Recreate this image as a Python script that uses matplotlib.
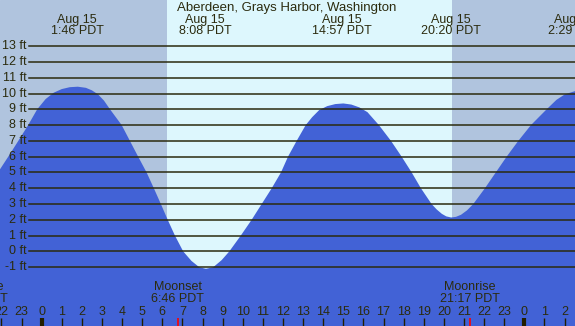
import matplotlib
matplotlib.use("Agg")
import matplotlib.pyplot as plt

# Tide curve (hours from midnight Aug 15, feet)
tide_hours = [-2.07, -1.66, -1.16, -0.67, -0.22, 0.20, 0.60, 1.00, 1.40, 1.80, 2.20,
              2.50, 2.80, 3.10, 3.40, 3.98, 4.39, 4.80, 5.22, 5.58, 5.93, 6.27, 6.63,
              7.04, 7.45, 7.84, 8.17, 8.53, 8.95, 9.33, 9.90, 10.44, 10.94, 11.44,
              11.90, 12.25, 12.68, 13.13, 13.45, 13.80, 14.20, 14.60, 15.00, 15.40,
              15.80, 16.20, 16.77, 17.37, 17.90, 18.40, 18.86, 19.39, 19.65, 19.90,
              20.12, 20.36, 20.60, 20.85, 21.15, 21.46, 22.04, 22.58, 23.12, 23.70,
              24.33, 25.11, 25.60, 26.02, 26.52]
tide_feet = [5.2, 6.0, 7.0, 8.0, 9.0, 9.65, 10.05, 10.28, 10.40, 10.43, 10.36,
             10.2, 9.95, 9.55, 9.0, 8.0, 7.0, 6.0, 5.0, 4.0, 3.0, 2.0, 1.0,
             0.0, -0.6, -1.0, -1.1, -1.0, -0.55, 0.0, 1.0, 2.0, 3.0, 4.0,
             5.0, 6.0, 7.0, 8.0, 8.5, 8.95, 9.2, 9.33, 9.37, 9.3,
             9.12, 8.82, 8.0, 7.0, 6.0, 5.0, 4.0, 3.0, 2.65, 2.38,
             2.22, 2.15, 2.19, 2.32, 2.6, 3.0, 4.0, 5.0, 6.0, 7.0,
             8.0, 9.0, 9.6, 9.95, 10.15]

title = "Aberdeen, Grays Harbor, Washington"
event_hours = [1.767, 8.133, 14.95, 20.333, 26.483]
event_labels = ["Aug 15\n1:46 PDT", "Aug 15\n8:08 PDT", "Aug 15\n14:57 PDT",
                "Aug 15\n20:20 PDT", "Aug 15\n2:29 PDT"]
moon_hours = [-3.17, 6.767, 21.283]
moon_labels = ["Moonrise\n20:50 PDT", "Moonset\n6:46 PDT", "Moonrise\n21:17 PDT"]
sunrise, sunset = 6.22, 20.39
feet_levels = list(range(13, -2, -1))
hour_ticks = list(range(-2, 27))

W, H = 575, 326
XMIN, XMAX = -2.07, 26.52
YMIN, YMAX = -4.72, 15.92

night = "#B0C4DE"
day = "#DDF7FD"
water = "#4262D6"
ink = "#2B2B0E"

fig = plt.figure(figsize=(W / 100, H / 100), dpi=100)
ax = fig.add_axes([0, 0, 1, 1])
ax.set_xlim(XMIN, XMAX)
ax.set_ylim(YMIN, YMAX)
ax.axis("off")
ax.add_patch(plt.Rectangle((0, 0), 1, 1, transform=ax.transAxes, color=night, zorder=0))
ax.axvspan(sunrise, sunset, color=day, zorder=1, lw=0)
ax.fill_between(tide_hours, tide_feet, YMIN, color=water, lw=0, zorder=2)

font = "Liberation Sans"
fs = 9.0
yt = ax.get_yaxis_transform()
for lv in feet_levels:
    ax.plot([29 / W, 1], [lv, lv], transform=yt, color=ink, lw=1.1, zorder=3)
    ax.text(27 / W, lv, f"{lv} ft", transform=yt, ha="right", va="center",
            fontsize=fs, family=font, color=ink, zorder=4)

xt = ax.get_xaxis_transform()
ax.text(0.4985, 1 - 7.8 / H, title, transform=ax.transAxes, ha="center", va="center",
        fontsize=9.5, family=font, color=ink, zorder=4)
for h, lab in zip(event_hours, event_labels):
    l1, l2 = lab.split("\n")
    ax.text(h, 1 - 19.5 / H, l1, transform=xt, ha="center", va="center",
            fontsize=fs, family=font, color=ink, zorder=4)
    ax.text(h, 1 - 31.5 / H, l2, transform=xt, ha="center", va="center",
            fontsize=fs, family=font, color=ink, zorder=4)

for h, lab in zip(moon_hours, moon_labels):
    l1, l2 = lab.split("\n")
    ax.text(h, 1 - 287.3 / H, l1, transform=xt, ha="center", va="center",
            fontsize=fs, family=font, color=ink, zorder=4)
    ax.text(h, 1 - 299.3 / H, l2, transform=xt, ha="center", va="center",
            fontsize=fs, family=font, color=ink, zorder=4)

for h in hour_ticks:
    ax.text(h, 1 - 311.7 / H, str(h % 24), transform=xt, ha="center", va="center",
            fontsize=fs, family=font, color=ink, zorder=4)
    lw = 3.0 if h % 24 == 0 else 1.0
    ax.plot([h, h], [0, 8 / H], transform=xt, color="#221E00", lw=lw,
            solid_capstyle="butt", zorder=4)
for h in moon_hours:
    ax.plot([h, h], [0, 8 / H], transform=xt, color="red", lw=1.2,
            solid_capstyle="butt", zorder=5)

fig.savefig("out.png", dpi=100)
